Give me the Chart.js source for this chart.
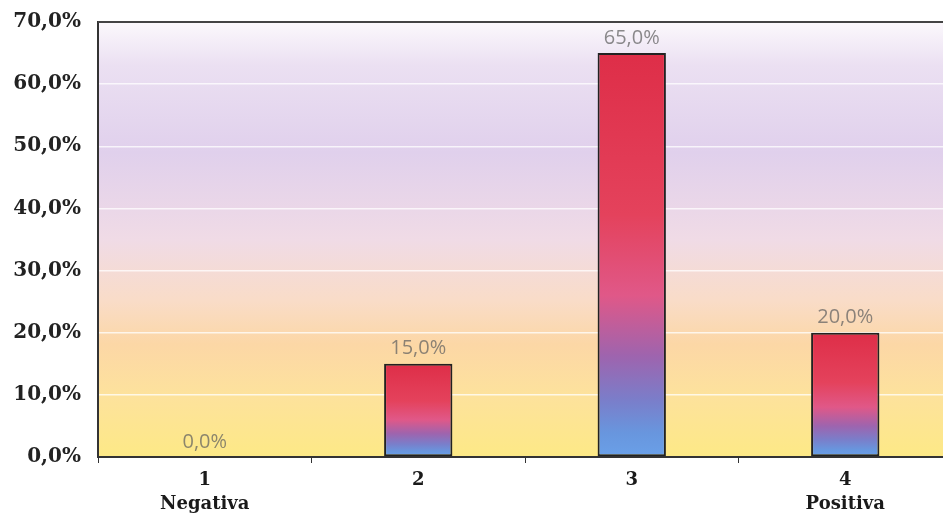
<!DOCTYPE html>
<html>
<head>
<meta charset="utf-8">
<script src="https://cdn.jsdelivr.net/npm/chart.js@4"></script>
<style>
  html, body { margin: 0; padding: 0; background: #fff; overflow: hidden; }
  #wrap { width: 952px; height: 526px; }
</style>
</head>
<body>
<div id="wrap"><canvas id="myChart" width="952" height="526"></canvas></div>
<script>
// values (percent)
const categories = [['1', 'Negativa'], ['2'], ['3'], ['4', 'Positiva']];
const values = [0, 15, 65, 20];
const yTicks = [0, 10, 20, 30, 40, 50, 60, 70];

function fmt(v) {
  return v.toFixed(1).replace('.', ',') + '%';
}

// each bar gets its own red -> pink -> purple -> blue fade
function barFill(context) {
  const chart = context.chart;
  const { ctx, chartArea, scales } = chart;
  if (!chartArea) return '#e0304a';
  const v = values[context.dataIndex];
  const top = scales.y.getPixelForValue(v);
  const bottom = scales.y.getPixelForValue(0);
  if (bottom - top < 1) return '#e0304a';
  const g = ctx.createLinearGradient(0, top, 0, bottom);
  g.addColorStop(0, '#de2e48');
  g.addColorStop(0.4, '#e4425c');
  g.addColorStop(0.6, '#e05888');
  g.addColorStop(0.75, '#9e64ae');
  g.addColorStop(0.86, '#7a7eca');
  g.addColorStop(0.94, '#6896de');
  g.addColorStop(1, '#6aa0e8');
  return g;
}

const bgPlugin = {
  id: 'plotBg',
  beforeDraw(chart) {
    const { ctx, chartArea: a } = chart;
    const g = ctx.createLinearGradient(0, a.top, 0, a.bottom);
    g.addColorStop(0, '#fbf8fc');
    g.addColorStop(0.1, '#ebe0f2');
    g.addColorStop(0.3, '#e0d0ec');
    g.addColorStop(0.5, '#f0dbe6');
    g.addColorStop(0.64, '#f9dcc8');
    g.addColorStop(0.74, '#fcd7a6');
    g.addColorStop(0.86, '#fde29c');
    g.addColorStop(1, '#fde986');
    ctx.save();
    ctx.fillStyle = g;
    ctx.fillRect(a.left, a.top, a.right - a.left, a.bottom - a.top);
    ctx.restore();
  },
  afterDraw(chart) {
    const { ctx, chartArea: a } = chart;
    // dark frame line at the top of the plot
    ctx.save();
    ctx.strokeStyle = '#444';
    ctx.lineWidth = 2;
    ctx.beginPath();
    ctx.moveTo(a.left, a.top);
    ctx.lineTo(a.right, a.top);
    ctx.stroke();
    ctx.restore();
  }
};

const labelPlugin = {
  id: 'valueLabels',
  afterDatasetsDraw(chart) {
    const { ctx } = chart;
    const meta = chart.getDatasetMeta(0);
    ctx.save();
    ctx.font = '20px "Open Sans", sans-serif';
    ctx.fillStyle = 'rgba(95,95,95,0.72)';
    ctx.textAlign = 'center';
    ctx.textBaseline = 'bottom';
    meta.data.forEach((bar, i) => {
      ctx.fillText(fmt(values[i]), bar.x, bar.y - 5);
    });
    ctx.restore();
  }
};

const data = {
  labels: categories,
  datasets: [{
    data: values,
    backgroundColor: barFill,
    borderColor: '#222',
    borderWidth: 2,
    borderSkipped: false,
    categoryPercentage: 1,
    barPercentage: 0.32
  }]
};

const config = {
  type: 'bar',
  data: data,
  options: {
    responsive: false,
    animation: false,
    layout: { padding: { top: 22, right: 0, left: 0, bottom: 0 } },
    plugins: {
      legend: { display: false },
      tooltip: { enabled: false }
    },
    scales: {
      x: {
        afterFit: s => { s.height = 69; },
        border: { color: '#333', width: 2 },
        grid: { drawOnChartArea: false, offset: true, tickLength: 6, color: '#333' },
        ticks: {
          color: '#1a1a1a',
          padding: 6,
          font: { family: '"DejaVu Serif", serif', size: 18, weight: 'bold', lineHeight: 1.3 }
        }
      },
      y: {
        min: 0,
        max: 70,
        afterFit: s => { s.width = 98; s.paddingTop = 0; s.paddingBottom = 0; },
        afterBuildTicks: s => { s.ticks = yTicks.map(v => ({ value: v })); },
        border: { color: '#333', width: 2 },
        grid: {
          drawTicks: false,
          color: ctx => (ctx.tick && ctx.tick.value > 0 && ctx.tick.value < 70) ? 'rgba(255,255,255,0.75)' : 'rgba(0,0,0,0)',
          lineWidth: 1.5
        },
        ticks: {
          color: '#222',
          padding: 17,
          callback: v => fmt(v),
          font: { family: '"DejaVu Serif", serif', size: 20, weight: 'bold' }
        }
      }
    }
  },
  plugins: [bgPlugin, labelPlugin]
};

const myChart = new Chart(document.getElementById('myChart'), config);
</script>
</body>
</html>
